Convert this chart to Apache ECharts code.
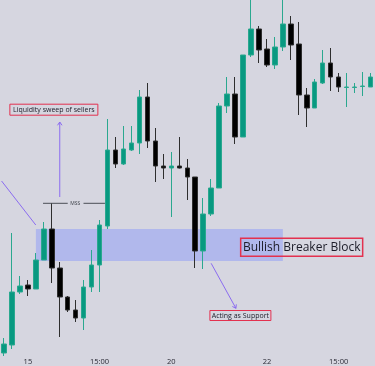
<!DOCTYPE html>
<html><head><meta charset="utf-8">
<script src="https://cdn.jsdelivr.net/npm/echarts@6/dist/echarts.min.js"></script>
<style>html,body{margin:0;padding:0;background:#d6d6e0}#c{width:375px;height:366px}</style>
</head><body><div id="c"></div>
<script>
// Candle values (price units)
const open  = [0,8,61,68,64,93,124,85,56,43, 35,66,88,127,203,189,203,210,256,212, 187,185,187,185,176,102,139,165,247,259, 216,298,324,304,288,306,329,309,258,245, 270,290,276,265.5,265.5,266.5,266];
const close = [9,61,67,64,93,124,85,56,43,35, 66,88,128,203,189,204,210,256,212,187, 185,187,185,176,102,139,165,247,259,216, 298,324,303,288,306,329,308,258,245,271, 290,276,266,266,266,267,276];
const low   = [-3,4,59,57,64,93,70,16,41,31, 23,61,61,124,185,188,202,199,205,171, 174,136,184.5,153,85,84,137,165,240,209, 216,296,290,286,284,302,293,238,226,245, 269,262,261,246,260,257,266];
const high  = [15,120,77,73,100,131,150,91,57,53, 73,103,133,234,216,227,227,263,270,225, 199,201,216,194,176,155,174,250,276,276, 298,363,327,314,316,363,337,331,265,274, 303,305,280,280,270,281,280];
const categories = open.map((_, i) => 'bar' + i);
const tickIndex = [3, 12, 21, 33, 42];
const tickText  = ['15', '15:00', '20', '22', '15:00'];
// Breaker block zone: bar range and price range
const zoneBars = [4, 35];
const zonePrice = [92, 124];

const BG = '#d6d6e0';
const chart = echarts.init(document.getElementById('c'), null, {renderer: 'canvas'});
chart.setOption({
  backgroundColor: BG,
  animation: false,
  grid: {left: -4.5, width: 379, top: 0, bottom: 13},
  xAxis: [{
    type: 'category', data: categories, boundaryGap: true,
    axisLine: {show: false}, axisTick: {show: false}, splitLine: {show: false},
    axisLabel: {
      interval: (i) => tickIndex.includes(i),
      formatter: (v, i) => { const k = tickIndex.indexOf(i); return k >= 0 ? tickText[k] : ''; },
      fontSize: 7.5, color: '#2a2a35', margin: 5, fontFamily: 'Open Sans'
    }
  }, {type: 'value', min: -0.5, max: 46.5, show: false}],
  yAxis: {type: 'value', min: 0, max: 353, show: false, splitLine: {show: false}},
  series: [{
    type: 'candlestick', xAxisIndex: 0, yAxisIndex: 0,
    data: open.map((o, i) => [o, close[i], low[i], high[i]]),
    barWidth: 5,
    itemStyle: {color: '#089981', color0: '#000000', borderColor: '#2aa88f', borderColor0: '#2e2e2e', borderWidth: 1},
    markArea: {silent: true, itemStyle: {color: '#b1b8ec'},
      data: [[{xAxis: zoneBars[0], yAxis: zonePrice[0]}, {xAxis: zoneBars[1], yAxis: zonePrice[1]}]]}
  }]
});

function px(x, v) { return chart.convertToPixel({xAxisIndex: 1, yAxisIndex: 0}, [x, v]); }
const PURPLE = '#8b6cf0', RED = '#e3314f', TXT = '#1c1c28';
const g = [];
function box(x, v, w, h, text, fs, lw) {
  const p = px(x, v);
  g.push({type: 'rect', shape: {x: p[0] - w / 2, y: p[1] - h / 2, width: w, height: h}, style: {fill: 'rgba(0,0,0,0)', stroke: RED, lineWidth: lw}, z: 20});
  g.push({type: 'text', x: p[0], y: p[1], style: {text: text, fontSize: fs, fontFamily: 'Open Sans', fill: TXT, align: 'center', verticalAlign: 'middle'}, z: 21});
}
function arrow(x1, v1, x2, v2, head) {
  const a = px(x1, v1), b = px(x2, v2);
  g.push({type: 'line', shape: {x1: a[0], y1: a[1], x2: b[0], y2: b[1]}, style: {stroke: PURPLE, lineWidth: 1}, z: 20});
  if (head) {
    const ang = Math.atan2(b[1] - a[1], b[0] - a[0]), L = 4;
    const w1 = [b[0] - L * Math.cos(ang - 0.6), b[1] - L * Math.sin(ang - 0.6)];
    const w2 = [b[0] - L * Math.cos(ang + 0.6), b[1] - L * Math.sin(ang + 0.6)];
    g.push({type: 'polyline', shape: {points: [w1, b, w2]}, style: {stroke: PURPLE, lineWidth: 1, fill: null}, z: 20});
  }
}
// Liquidity sweep annotation
box(6.26, 243.3, 88, 11, 'Liquidity sweep of sellers', 7, 1);
arrow(7.0, 156, 7.0, 231, true);
arrow(-0.3, 172, 3.99, 128, false);
// MSS line
const m1 = px(4.9, 149.7), m2 = px(8.0, 149.7), m3 = px(9.98, 149.7), m4 = px(12.67, 149.7), mt = px(8.95, 149.7);
g.push({type: 'line', shape: {x1: m1[0], y1: m1[1], x2: m2[0], y2: m2[1]}, style: {stroke: '#4a4e56', lineWidth: 1}, z: 20});
g.push({type: 'line', shape: {x1: m3[0], y1: m3[1], x2: m4[0], y2: m4[1]}, style: {stroke: '#4a4e56', lineWidth: 1}, z: 20});
g.push({type: 'text', x: mt[0], y: mt[1], style: {text: 'MSS', fontSize: 5, fontFamily: 'Open Sans', fill: '#3a3e46', align: 'center', verticalAlign: 'middle'}, z: 21});
// Breaker block label
box(37.36, 105.8, 122, 18, 'Bullish Breaker Block', 12, 1.5);
// Acting as support
box(29.67, 37.5, 61, 10, 'Acting as Support', 7, 1);
arrow(26.0, 89.7, 29.11, 44.7, true);
chart.setOption({graphic: g});
</script></body></html>
